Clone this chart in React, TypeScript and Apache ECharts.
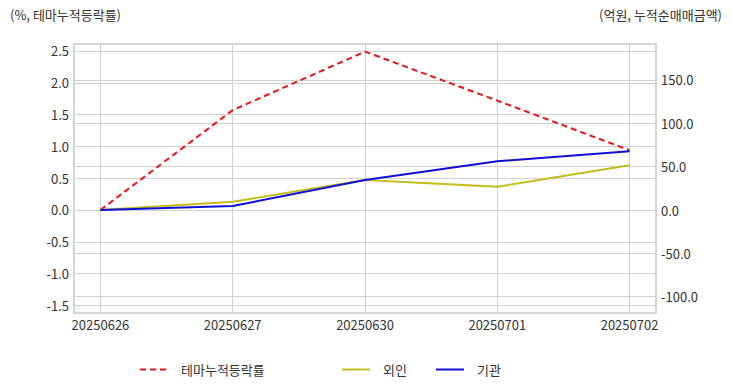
import React, { useEffect, useRef } from "react";
import * as echarts from "echarts";

const dates = ["20250626", "20250627", "20250630", "20250701", "20250702"];
const themeRate = [0, 1.57, 2.49, 1.72, 0.94];
const foreign = [0, 9.5, 34.5, 26.8, 51.7];
const institution = [0, 4.6, 34.5, 56.3, 67.8];
const leftTicks = [-1.5, -1.0, -0.5, 0, 0.5, 1.0, 1.5, 2.0, 2.5];
const rightTicks = [-100, -50, 0, 50, 100, 150];
const xTicks = [0, 1, 2, 3, 4];

const FONT = "'Noto Sans CJK KR', 'Noto Sans', sans-serif";
const RED = "#e8141a";
const YELLOW = "#c3bc1c";
const BLUE = "#0f0fd6";

export default function App() {
  const ref = useRef<HTMLDivElement>(null);
  useEffect(() => {
    if (!ref.current) return;
    const chart = echarts.init(ref.current, undefined, { renderer: "svg" });
    const pts = (arr: number[]) => arr.map((v, i) => [i, v]);
    const labelStyle = { color: "#333", fontSize: 13, fontFamily: FONT };
    const split = { show: true, lineStyle: { color: "#d0d0d0", width: 1 } };
    const legendBase = {
      top: 358,
      itemWidth: 28,
      itemHeight: 14,
      itemStyle: { opacity: 0 },
      textStyle: { color: "#333", fontSize: 13, fontFamily: FONT, padding: [0, 0, 0, 8] },
    };
    chart.setOption({
      animation: false,
      textStyle: { fontFamily: FONT },
      grid: {
        left: 74,
        right: 76,
        top: 44,
        bottom: 79,
        show: true,
        borderColor: "#d4d4d4",
        borderWidth: 2,
        containLabel: false,
      },
      xAxis: {
        type: "value",
        min: -0.2,
        max: 4.2,
        axisLine: { show: false },
        axisTick: { show: false, customValues: xTicks },
        axisLabel: {
          ...labelStyle,
          margin: 5,
          customValues: xTicks,
          formatter: (v: number) => dates[Math.round(v)] ?? "",
        },
        splitLine: split,
      },
      yAxis: [
        {
          type: "value",
          position: "left",
          min: -1.62,
          max: 2.61,
          axisLine: { show: false },
          axisTick: { show: false, customValues: leftTicks },
          axisLabel: {
            ...labelStyle,
            margin: 5,
            customValues: leftTicks,
            formatter: (v: number) => v.toFixed(1),
          },
          splitLine: split,
        },
        {
          type: "value",
          position: "right",
          min: -118.8,
          max: 191.5,
          axisLine: { show: false },
          axisTick: { show: false, customValues: rightTicks },
          axisLabel: {
            ...labelStyle,
            margin: 5,
            customValues: rightTicks,
            formatter: (v: number) => v.toFixed(1),
          },
          splitLine: split,
        },
      ],
      legend: [
        { ...legendBase, left: 134, data: ["테마누적등락률"] },
        { ...legendBase, left: 336, data: ["외인"] },
        { ...legendBase, left: 430, data: ["기관"] },
      ],
      graphic: [
        {
          type: "text",
          left: 10,
          top: 8,
          style: { text: "(%, 테마누적등락률)", fill: "#333", fontSize: 13, fontFamily: FONT },
        },
        {
          type: "text",
          right: 10,
          top: 8,
          style: { text: "(억원, 누적순매매금액)", fill: "#333", fontSize: 13, fontFamily: FONT },
        },
      ],
      series: [
        {
          name: "테마누적등락률",
          type: "line",
          yAxisIndex: 0,
          data: pts(themeRate),
          symbol: "none",
          lineStyle: { color: RED, width: 2, type: [6, 4] },
          itemStyle: { color: RED },
        },
        {
          name: "외인",
          type: "line",
          yAxisIndex: 1,
          data: pts(foreign),
          symbol: "none",
          lineStyle: { color: YELLOW, width: 2 },
          itemStyle: { color: YELLOW },
        },
        {
          name: "기관",
          type: "line",
          yAxisIndex: 1,
          data: pts(institution),
          symbol: "none",
          lineStyle: { color: BLUE, width: 2 },
          itemStyle: { color: BLUE },
        },
      ],
    });
    return () => chart.dispose();
  }, []);
  return (
    <div
      ref={ref}
      style={{ position: "fixed", left: 0, top: 0, width: 732, height: 392, background: "#fff" }}
    />
  );
}
